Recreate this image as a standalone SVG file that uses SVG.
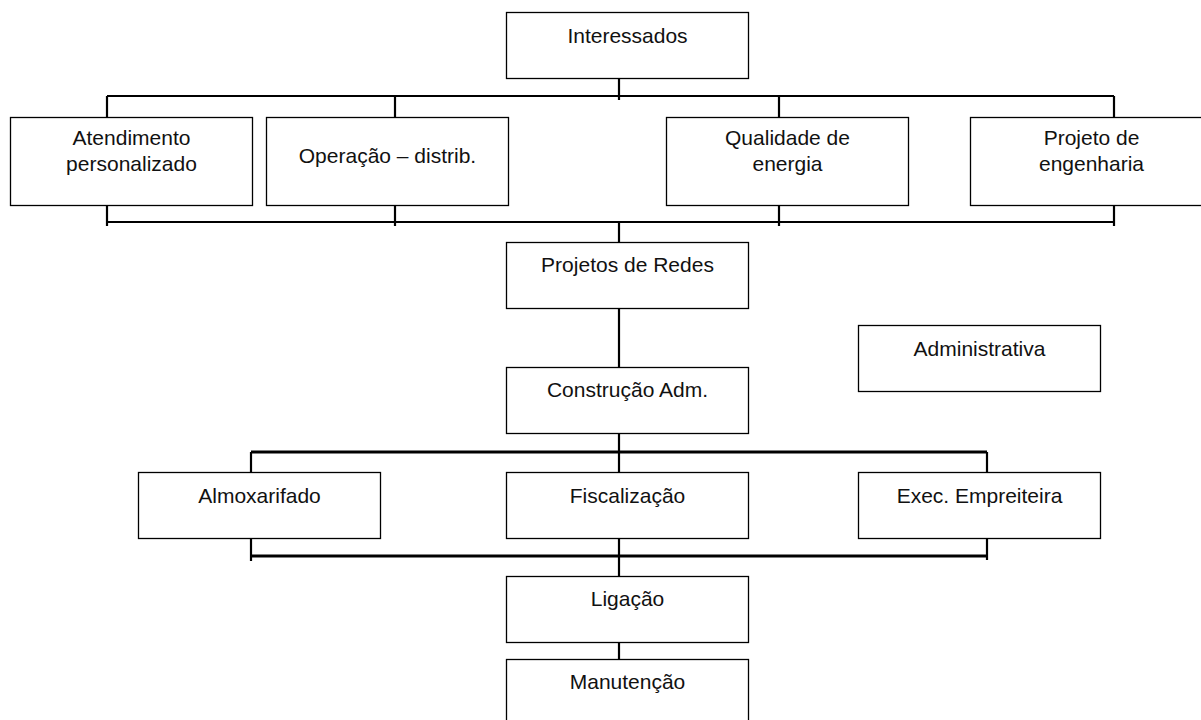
<svg xmlns="http://www.w3.org/2000/svg" width="1201" height="720" viewBox="0 0 1201 720">
<style>
.box{fill:#fff;stroke:#000;stroke-width:1.3}
.t{font-family:"Liberation Sans",Arial,sans-serif;font-size:21px;fill:#111;text-anchor:middle}
.c{stroke:#000;stroke-width:2.2;fill:none}
.b{stroke:#000;stroke-width:2.8;fill:none}
</style>
<rect width="1201" height="720" fill="#fff"/>
<g id="connectors">
<line class="c" x1="619" y1="76" x2="619" y2="100"/>
<line class="c" x1="107" y1="96" x2="1114" y2="96"/>
<line class="c" x1="107" y1="96" x2="107" y2="120"/>
<line class="c" x1="395" y1="96" x2="395" y2="120"/>
<line class="c" x1="779" y1="96" x2="779" y2="120"/>
<line class="c" x1="1114" y1="96" x2="1114" y2="120"/>
<line class="c" x1="107" y1="222" x2="1114" y2="222"/>
<line class="c" x1="107" y1="202" x2="107" y2="226"/>
<line class="c" x1="395" y1="202" x2="395" y2="226"/>
<line class="c" x1="779" y1="202" x2="779" y2="226"/>
<line class="c" x1="1114" y1="202" x2="1114" y2="226"/>
<line class="c" x1="619" y1="222" x2="619" y2="243"/>
<line class="c" x1="619" y1="308" x2="619" y2="370"/>
<line class="c" x1="619" y1="430" x2="619" y2="476"/>
<line class="b" x1="251" y1="452" x2="987" y2="452"/>
<line class="c" x1="251" y1="452" x2="251" y2="475"/>
<line class="c" x1="987" y1="452" x2="987" y2="475"/>
<line class="b" x1="251" y1="556" x2="987" y2="556"/>
<line class="c" x1="251" y1="536" x2="251" y2="561"/>
<line class="c" x1="619" y1="536" x2="619" y2="581"/>
<line class="c" x1="987" y1="536" x2="987" y2="560"/>
<line class="c" x1="619" y1="640" x2="619" y2="665"/>
</g>
<g id="n-interessados"><rect class="box" x="506.5" y="12.5" width="242" height="66"/><text class="t" x="627.5" y="43">Interessados</text></g>
<g id="n-atendimento"><rect class="box" x="10.5" y="117.5" width="242" height="88"/><text class="t" x="131.5" y="145">Atendimento</text><text class="t" x="131.5" y="171">personalizado</text></g>
<g id="n-operacao"><rect class="box" x="266.5" y="117.5" width="242" height="88"/><text class="t" x="387.5" y="163">Operação – distrib.</text></g>
<g id="n-qualidade"><rect class="box" x="666.5" y="117.5" width="242" height="88"/><text class="t" x="787.5" y="145">Qualidade de</text><text class="t" x="787.5" y="171">energia</text></g>
<g id="n-projeto-eng"><rect class="box" x="970.5" y="117.5" width="242" height="88"/><text class="t" x="1091.5" y="145">Projeto de</text><text class="t" x="1091.5" y="171">engenharia</text></g>
<g id="n-projetos-redes"><rect class="box" x="506.5" y="242.5" width="242" height="66"/><text class="t" x="627.5" y="272">Projetos de Redes</text></g>
<g id="n-administrativa"><rect class="box" x="858.5" y="325.5" width="242" height="66"/><text class="t" x="979.5" y="356">Administrativa</text></g>
<g id="n-construcao"><rect class="box" x="506.5" y="367.5" width="242" height="66"/><text class="t" x="627.5" y="397">Construção Adm.</text></g>
<g id="n-almoxarifado"><rect class="box" x="138.5" y="472.5" width="242" height="66"/><text class="t" x="259.5" y="503">Almoxarifado</text></g>
<g id="n-fiscalizacao"><rect class="box" x="506.5" y="472.5" width="242" height="66"/><text class="t" x="627.5" y="503">Fiscalização</text></g>
<g id="n-exec"><rect class="box" x="858.5" y="472.5" width="242" height="66"/><text class="t" x="979.5" y="503">Exec. Empreiteira</text></g>
<g id="n-ligacao"><rect class="box" x="506.5" y="576.5" width="242" height="66"/><text class="t" x="627.5" y="606">Ligação</text></g>
<g id="n-manutencao"><rect class="box" x="506.5" y="659.5" width="242" height="66"/><text class="t" x="627.5" y="689">Manutenção</text></g>
</svg>
